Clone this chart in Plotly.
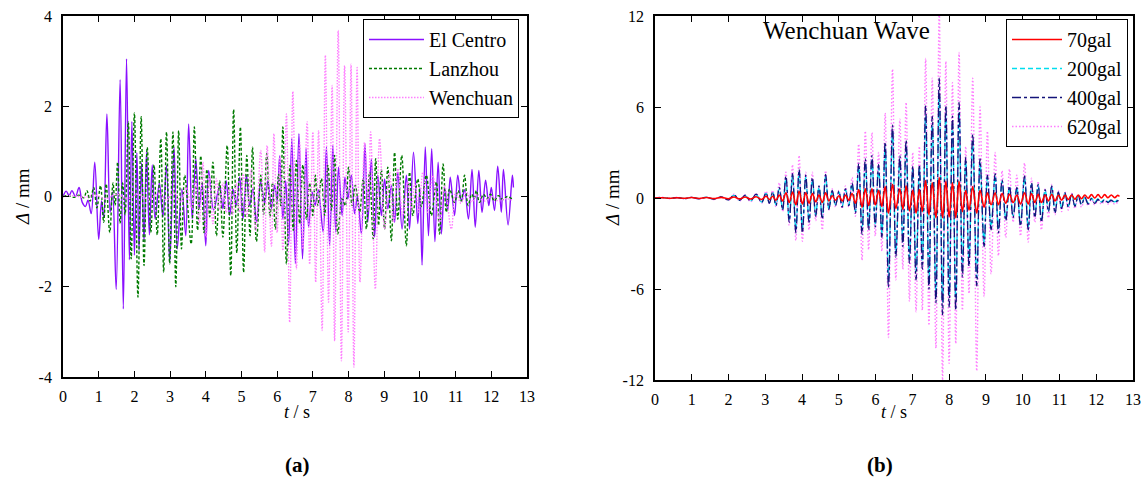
import plotly.graph_objects as go

# ---------------- (a) three earthquake records ----------------
t_elcentro = [
    0.00, 0.09, 0.17, 0.25, 0.35, 0.45, 0.54, 0.63, 0.70, 0.79,
    0.89, 1.00, 1.08, 1.14, 1.23, 1.32, 1.39, 1.49, 1.60, 1.69,
    1.78, 1.86, 1.93, 2.00, 2.07, 2.13, 2.20, 2.27, 2.34, 2.42,
    2.50, 2.58, 2.70, 2.80, 2.90, 2.99, 3.11, 3.20, 3.33,
    3.44, 3.52, 3.62, 3.72, 3.81, 3.90, 4.00, 4.08, 4.22, 4.39,
    4.48, 4.57, 4.67, 4.76, 4.85, 4.95, 5.04, 5.14, 5.23, 5.32,
    5.42, 5.54, 5.65, 5.74, 5.84, 5.93, 6.00, 6.07, 6.16, 6.24,
    6.32, 6.41, 6.51, 6.61, 6.71, 6.81, 6.88, 6.98, 7.06, 7.15,
    7.29, 7.38, 7.47, 7.56, 7.64, 7.72, 7.82, 7.90, 7.98, 8.08,
    8.17, 8.25, 8.36, 8.46, 8.54, 8.64, 8.73, 8.82, 8.92, 9.01,
    9.10, 9.20, 9.29, 9.38, 9.50, 9.62, 9.71, 9.82, 9.94, 10.00,
    10.06, 10.15, 10.24, 10.33, 10.42, 10.51, 10.60, 10.69, 10.78, 10.85,
    10.97, 11.06, 11.16, 11.25, 11.36, 11.46, 11.55, 11.65, 11.74, 11.84,
    11.93, 12.00, 12.09, 12.18, 12.28, 12.34, 12.47, 12.59, 12.62,
]
d_elcentro = [
    0.00, 0.12, 0.02, 0.13, 0.00, 0.20, -0.13, -0.22, -0.08, -0.38,
    0.76, -0.95, -0.10, -0.46, 1.83, -0.35, 0.10, -2.06, 2.59, -2.49,
    3.05, -1.40, 1.66, -1.30, 0.97, -1.20, 0.75, -1.00, 0.98, -0.85,
    0.70, -0.50, 0.30, -0.45, 0.69, -1.46, 1.10, -1.16, 0.17,
    -0.87, 1.61, -0.50, 0.84, -0.27, 0.30, -1.09, 0.58, -0.30, 0.24,
    -0.27, 0.35, -0.42, 0.17, -0.20, 0.43, -0.50, 0.47, -0.20, 0.17,
    -0.57, 0.32, -0.15, 0.35, -0.27, 0.25, -0.10, 0.90, -0.50, 0.35,
    -1.09, 1.28, -1.49, 1.39, -1.38, 1.06, -0.68, 0.10, -0.20, 0.15,
    -0.79, 1.10, -1.09, 1.13, -0.79, 0.65, -0.42, 0.43, -0.05, 0.47,
    -0.38, 0.00, -0.83, 1.17, -0.57, 0.84, -0.90, 0.47, -0.42, 0.39,
    -0.27, 0.24, -0.57, 0.54, -0.72, 0.47, -0.72, 0.98, -0.60, 0.20,
    -1.52, 1.10, -0.87, 1.06, -1.00, 0.76, -0.83, 0.20, -0.30, 0.43,
    -0.42, 0.47, -0.10, 0.15, -0.50, 0.60, -0.68, 0.58, -0.35, 0.36,
    -0.20, 0.20, -0.31, 0.67, -0.35, 0.60, -0.63, 0.47, 0.20,
]

t_lanzhou = [
    0.00, 0.15, 0.30, 0.45, 0.58, 0.67, 0.76, 0.86, 0.95, 1.05,
    1.14, 1.21, 1.31, 1.40, 1.46, 1.53, 1.60, 1.67, 1.74, 1.83,
    1.91, 2.00, 2.10, 2.19, 2.27, 2.36, 2.46, 2.55, 2.64, 2.74,
    2.82, 2.90, 2.99, 3.08, 3.16, 3.24, 3.32, 3.41, 3.59, 3.68,
    3.77, 3.86, 3.95, 4.03, 4.11, 4.20, 4.30, 4.39, 4.48, 4.60,
    4.70, 4.78, 4.87, 4.97, 5.06, 5.15, 5.24, 5.31, 5.42, 5.54,
    5.62, 5.71, 5.80, 5.87, 5.95, 6.04, 6.10, 6.16, 6.26, 6.36,
    6.45, 6.54, 6.63, 6.72, 6.82, 6.91, 7.00, 7.07, 7.14, 7.24,
    7.33, 7.42, 7.52, 7.61, 7.70, 7.82, 7.91, 8.00, 8.10, 8.19,
    8.31, 8.41, 8.50, 8.59, 8.69, 8.76, 8.84, 8.92, 9.01, 9.10,
    9.20, 9.29, 9.38, 9.49, 9.62, 9.71, 9.80, 9.94, 10.04, 10.18,
    10.32, 10.46, 10.55, 10.65, 10.74, 10.83, 10.97, 11.07, 11.16, 11.25,
    11.35, 11.45, 11.52, 11.58, 11.67, 11.78, 11.88, 11.98, 12.08, 12.20,
    12.32, 12.45, 12.58, 12.62,
]
d_lanzhou = [
    0.00, 0.02, -0.02, 0.03, -0.03, 0.13, -0.10, 0.20, -0.25, 0.24,
    -0.57, 0.28, -0.80, 0.30, -0.20, 0.76, -0.60, 0.30, -0.40, 1.65,
    -1.38, 1.85, -2.23, 1.77, -1.53, 1.09, -0.80, 0.70, -0.85, 1.28,
    -1.68, 1.43, -1.49, 1.43, -2.00, 1.46, -1.16, 0.47, -1.05, 1.54,
    -0.75, 0.90, -0.80, 0.60, -0.45, 0.76, -0.87, 0.35, -0.90, 1.13,
    -1.75, 1.93, -1.25, 1.54, -1.68, 0.91, -0.87, 1.09, -1.00, 0.47,
    -0.40, 0.95, -0.45, 0.30, -0.72, 0.50, -0.20, 1.54, -1.49, 0.69,
    -0.75, 0.80, -0.60, 0.70, -0.50, 0.30, -0.42, 0.47, -0.20, 0.40,
    -0.42, 0.69, -0.30, 0.91, -0.83, -0.05, -0.20, 0.65, -0.20, 0.25,
    -0.35, 0.39, -0.72, 0.54, -0.94, 0.84, -0.64, 0.60, -0.72, 0.65,
    -0.98, 0.98, -0.50, 0.91, -1.09, 0.54, -0.42, 0.39, -0.22, 0.47,
    -0.42, 0.32, -0.83, 0.72, -0.35, 0.17, -0.13, 0.13, -0.10, 0.47,
    -0.20, 0.05, -0.05, 0.13, -0.13, 0.05, -0.05, 0.05, -0.10, 0.02,
    -0.07, 0.00, -0.05, -0.05,
]

t_wenchuan = [
    0.00, 0.30, 0.60, 0.90, 1.20, 1.50, 1.80, 2.10, 2.40, 2.70,
    2.90, 3.10, 3.30, 3.45, 3.60, 3.72, 3.82, 3.92, 4.01, 4.11,
    4.20, 4.30, 4.39, 4.48, 4.57, 4.67, 4.76, 4.86, 4.95, 5.05,
    5.15, 5.27, 5.40, 5.54, 5.65, 5.72, 5.84, 5.91, 6.00, 6.08,
    6.16, 6.26, 6.35, 6.44, 6.54, 6.63, 6.72, 6.84, 6.91, 7.00,
    7.08, 7.16, 7.26, 7.35, 7.44, 7.54, 7.61, 7.71, 7.80, 7.89,
    7.99, 8.07, 8.15, 8.24, 8.32, 8.45, 8.55, 8.62, 8.75, 8.87,
    9.01, 9.15, 9.26, 9.38, 9.52, 9.66, 9.76, 9.86, 9.97, 10.08,
    10.22, 10.36, 10.55, 10.69, 10.88, 11.00, 11.15, 11.30, 11.45, 11.60,
    11.80, 12.00, 12.20, 12.40, 12.60,
]
d_wenchuan = [
    0.00, 0.02, -0.02, 0.03, -0.05, 0.05, -0.05, 0.05, -0.06, 0.07,
    -0.08, 0.10, -0.12, 0.20, -0.25, 0.35, -0.60, 0.76, -0.90, 0.45,
    -0.60, 0.40, -0.30, 0.30, -0.35, 0.20, -0.40, 0.30, -0.35, 0.50,
    -0.45, 0.60, -0.75, 1.02, -1.23, 1.13, -1.10, 1.39, -0.80, 0.90,
    -1.20, 1.83, -2.79, 2.33, -1.60, 1.20, -1.16, 1.66, -1.50, 1.43,
    -1.90, 1.46, -2.97, 3.13, -2.34, 2.46, -3.20, 3.68, -3.64, 2.90,
    -3.00, 2.93, -3.78, 2.86, -1.90, 1.20, -0.30, 1.43, -2.05, 1.28,
    -0.72, 0.54, -0.57, 0.62, -0.42, 0.32, -0.30, 0.30, -0.35, 0.54,
    -0.35, 0.47, -0.57, 0.24, -0.72, 0.10, -0.15, 0.10, -0.12, 0.05,
    -0.10, 0.00, -0.10, -0.05, -0.08,
]

# ---------------- (b) Wenchuan wave at four intensities ----------------
t_wave = [
    0.00, 0.20, 0.40, 0.60, 0.80, 1.00, 1.20, 1.40, 1.60, 1.80,
    2.00, 2.15, 2.30, 2.45, 2.60, 2.75, 2.90, 3.02, 3.11, 3.20,
    3.29, 3.38, 3.47, 3.56, 3.65, 3.74, 3.83, 3.92, 4.01, 4.10,
    4.19, 4.28, 4.37, 4.46, 4.55, 4.64, 4.73, 4.82, 4.91, 5.00,
    5.09, 5.18, 5.27, 5.36, 5.45, 5.54, 5.63, 5.72, 5.81, 5.90,
    5.99, 6.08, 6.17, 6.26, 6.35, 6.46, 6.55, 6.66, 6.74, 6.83,
    6.92, 7.01, 7.10, 7.19, 7.27, 7.36, 7.45, 7.54, 7.64, 7.73,
    7.82, 7.91, 8.00, 8.09, 8.18, 8.27, 8.36, 8.45, 8.54, 8.64,
    8.75, 8.84, 8.95, 9.04, 9.14, 9.25, 9.34, 9.44, 9.54, 9.64,
    9.74, 9.84, 9.94, 10.05, 10.15, 10.24, 10.33, 10.42, 10.51, 10.61,
    10.70, 10.79, 10.88, 10.97, 11.06, 11.15, 11.24, 11.33, 11.42, 11.51,
    11.60, 11.69, 11.78, 11.87, 11.96, 12.05, 12.14, 12.23, 12.32, 12.41,
    12.50, 12.59, 12.63,
]
d_70gal = [
    0.00, 0.02, -0.02, 0.02, -0.02, 0.03, -0.03, 0.03, -0.04, 0.04,
    -0.05, 0.07, -0.06, 0.07, -0.07, 0.08, -0.10, 0.12, -0.10, 0.12,
    -0.15, 0.20, -0.20, 0.35, -0.30, 0.40, -0.45, 0.45, -0.40, 0.35,
    -0.35, 0.30, -0.25, 0.20, -0.30, 0.35, -0.20, 0.15, -0.15, 0.15,
    -0.20, 0.20, -0.15, 0.30, -0.35, 0.55, -0.60, 0.60, -0.50, 0.60,
    -0.45, 0.50, -0.55, 0.75, -1.00, 0.90, -0.70, 0.60, -0.75, 0.80,
    -0.85, 0.50, -1.00, 0.55, -0.90, 1.15, -1.10, 1.00, -1.30, 1.35,
    -1.30, 1.10, -1.25, 1.00, -1.30, 1.10, -0.90, 0.50, -0.80, 0.75,
    -1.00, 0.50, -0.60, 0.35, -0.45, 0.35, -0.45, 0.30, -0.35, 0.25,
    -0.30, 0.20, -0.40, 0.35, -0.40, 0.30, -0.30, 0.25, -0.30, 0.20,
    -0.20, 0.25, -0.20, 0.20, -0.15, 0.20, -0.10, 0.20, -0.08, 0.20,
    -0.05, 0.20, -0.02, 0.22, 0.00, 0.22, 0.00, 0.22, 0.02, 0.20,
    0.02, 0.18, 0.10,
]
d_200gal = [
    0.00, 0.03, -0.03, 0.03, -0.03, 0.04, -0.04, 0.05, -0.07, 0.07,
    -0.10, 0.17, -0.13, 0.15, -0.18, 0.22, -0.27, 0.30, -0.30, 0.35,
    -0.45, 0.60, -0.70, 1.30, -1.40, 1.45, -2.00, 1.70, -2.00, 1.35,
    -1.45, 1.20, -1.10, 0.70, -1.25, 1.40, -0.70, 0.45, -0.45, 0.40,
    -0.55, 0.55, -0.45, 0.90, -0.90, 2.00, -2.10, 2.30, -1.90, 2.50,
    -1.70, 2.00, -2.30, 3.30, -5.20, 4.30, -3.50, 2.50, -2.90, 3.40,
    -3.90, 1.90, -4.80, 2.00, -4.20, 5.40, -5.40, 4.80, -6.10, 6.80,
    -6.90, 5.50, -6.40, 4.80, -6.60, 5.60, -4.60, 2.40, -4.00, 3.70,
    -5.20, 2.30, -2.90, 1.35, -1.90, 1.40, -2.00, 1.10, -1.35, 0.70,
    -1.15, 0.65, -1.65, 1.30, -1.90, 0.90, -1.15, 0.80, -1.40, 0.50,
    -0.80, 0.70, -0.90, 0.35, -0.65, 0.30, -0.55, 0.25, -0.50, 0.12,
    -0.40, 0.05, -0.35, -0.02, -0.30, -0.05, -0.25, -0.08, -0.25, -0.10,
    -0.25, -0.12, -0.15,
]
d_400gal = [
    0.00, 0.03, -0.03, 0.03, -0.04, 0.04, -0.05, 0.05, -0.08, 0.08,
    -0.12, 0.20, -0.15, 0.18, -0.20, 0.25, -0.30, 0.35, -0.35, 0.40,
    -0.50, 0.70, -0.80, 1.45, -1.60, 1.60, -2.30, 1.90, -2.30, 1.50,
    -1.60, 1.35, -1.20, 0.80, -1.40, 1.55, -0.75, 0.50, -0.50, 0.45,
    -0.60, 0.60, -0.50, 1.00, -1.00, 2.30, -2.40, 2.60, -2.10, 2.80,
    -1.90, 2.20, -2.60, 3.70, -5.90, 4.80, -3.90, 2.80, -3.20, 3.80,
    -4.30, 2.10, -5.40, 2.20, -4.70, 6.10, -6.00, 5.40, -6.90, 7.90,
    -7.70, 6.10, -7.20, 5.40, -7.40, 6.30, -5.20, 2.70, -4.50, 4.20,
    -5.80, 2.60, -3.20, 1.50, -2.10, 1.60, -2.30, 1.20, -1.50, 0.80,
    -1.30, 0.70, -1.85, 1.45, -2.10, 1.00, -1.30, 0.90, -1.60, 0.55,
    -0.90, 0.80, -1.00, 0.40, -0.70, 0.35, -0.60, 0.30, -0.55, 0.15,
    -0.45, 0.05, -0.40, -0.05, -0.35, -0.10, -0.30, -0.12, -0.30, -0.15,
    -0.30, -0.18, -0.22,
]
d_620gal = [
    0.00, 0.05, -0.05, 0.05, -0.05, 0.05, -0.08, 0.06, -0.10, 0.10,
    -0.15, 0.25, -0.20, 0.20, -0.25, 0.30, -0.35, 0.45, -0.40, 0.50,
    -0.60, 1.00, -0.90, 1.70, -1.80, 2.20, -2.80, 2.80, -2.85, 1.70,
    -2.10, 1.70, -1.50, 0.70, -2.10, 1.80, -0.80, 0.60, -0.60, 0.50,
    -0.70, 0.80, -0.60, 1.35, -1.20, 3.55, -4.10, 4.40, -3.40, 4.30,
    -2.50, 3.00, -3.50, 5.60, -9.20, 8.50, -5.40, 5.20, -4.70, 6.30,
    -6.80, 3.00, -7.50, 3.40, -7.40, 9.20, -8.40, 7.90, -9.90, 12.40,
    -12.00, 9.00, -10.90, 7.60, -9.60, 9.60, -7.40, 3.40, -6.30, 7.90,
    -11.40, 6.00, -6.50, 4.40, -5.00, 3.00, -3.80, 1.80, -2.60, 1.90,
    -1.60, 1.50, -2.50, 2.30, -2.90, 1.30, -1.60, 1.10, -2.10, 0.60,
    -1.30, 0.90, -1.10, 0.50, -0.90, 0.40, -0.80, 0.30, -0.70, 0.10,
    -0.60, 0.00, -0.50, -0.10, -0.45, -0.15, -0.40, -0.20, -0.40, -0.25,
    -0.40, -0.30, -0.35,
]

for tt, dd in [(t_elcentro, d_elcentro), (t_lanzhou, d_lanzhou),
               (t_wenchuan, d_wenchuan)] + [(t_wave, d) for d in
                                            (d_70gal, d_200gal, d_400gal, d_620gal)]:
    assert len(tt) == len(dd), (len(tt), len(dd))

x_ticks = list(range(0, 14))
ya_ticks = [-4, -2, 0, 2, 4]
ya_text = ["-4", "-2", "0", "2", "4"]
yb_ticks = [-12, -6, 0, 6, 12]
yb_text = ["-12", "-6", "0", "6", "12"]

FONT = "Liberation Serif"
W, H = 1145, 488


def px(x):
    return x / W


def py(y):
    return 1 - y / H


def curve(t, d, name, color, width, dash, axis, legend, rank):
    return go.Scatter(
        x=t, y=d, name=name, mode="lines", legendrank=rank, legendgroup=name,
        line=dict(color=color, width=width, dash=dash, shape="spline", smoothing=1.0),
        xaxis="x" + axis, yaxis="y" + axis, legend=legend)


fig = go.Figure()

# panel (a)
fig.add_trace(curve(t_elcentro, d_elcentro, "El Centro", "#8A10FF", 1.4, "solid", "", "legend", 1))
fig.add_trace(curve(t_lanzhou, d_lanzhou, "Lanzhou", "#007A00", 1.4, "3px,2px", "", "legend", 2))
fig.add_trace(curve(t_wenchuan, d_wenchuan, "Wenchuan", "#FF80FF", 1.4, "1.5px,1.5px", "", "legend", 3))

# panel (b): drawn largest first so the smaller responses stay visible
fig.add_trace(curve(t_wave, d_620gal, "620gal", "#FF7CFF", 1.4, "1.5px,2px", "2", "legend2", 4))
fig.add_trace(curve(t_wave, d_200gal, "200gal", "#00DDEE", 1.4, "5px,3px", "2", "legend2", 2))
fig.add_trace(curve(t_wave, d_400gal, "400gal", "#14147A", 1.3, "dashdot", "2", "legend2", 3))
fig.add_trace(curve(t_wave, d_70gal, "70gal", "#FF0000", 1.6, "solid", "2", "legend2", 1))

axis_common = dict(showline=True, linecolor="black", linewidth=1.8, mirror="allticks",
                   ticks="inside", ticklen=6, tickwidth=1.3, tickcolor="black",
                   showgrid=False, zeroline=False, automargin=False,
                   tickfont=dict(family=FONT, size=16, color="black"))

legend_common = dict(font=dict(family=FONT, size=20, color="black"),
                     bgcolor="white", bordercolor="black", borderwidth=1,
                     xanchor="left", yanchor="top")


def label(text, x, y, size, angle=0):
    return dict(text=text, x=px(x), y=py(y), xref="paper", yref="paper",
                xanchor="center", yanchor="middle", textangle=angle,
                showarrow=False, font=dict(family=FONT, size=size, color="black"))


fig.update_layout(
    template="none",
    width=W, height=H,
    margin=dict(l=0, r=0, t=0, b=0, pad=0, autoexpand=False),
    paper_bgcolor="white", plot_bgcolor="white",
    font=dict(family=FONT, color="black"),
    showlegend=True,
    xaxis=dict(domain=[px(63), px(527)], range=[0, 13], tickvals=x_ticks,
               anchor="y", ticklabelstandoff=4, **axis_common),
    yaxis=dict(domain=[py(377), py(16)], range=[-4, 4], tickvals=ya_ticks,
               ticktext=ya_text, anchor="x", ticklabelstandoff=6, **axis_common),
    xaxis2=dict(domain=[px(655), px(1133)], range=[0, 13], tickvals=x_ticks,
                anchor="y2", ticklabelstandoff=4, **axis_common),
    yaxis2=dict(domain=[py(380), py(16)], range=[-12, 12], tickvals=yb_ticks,
                ticktext=yb_text, anchor="x2", ticklabelstandoff=6, **axis_common),
    legend=dict(x=px(363), y=py(19), itemwidth=55, tracegroupgap=0, **legend_common),
    legend2=dict(x=px(1006), y=py(19), itemwidth=50, tracegroupgap=0, **legend_common),
    annotations=[
        label("<i>Δ</i> / mm", 22, 197, 19, -90),
        label("<i>t</i> / s", 297, 412, 18),
        label("<b>(a)</b>", 297, 465, 21),
        label("<i>Δ</i> / mm", 612, 198, 19, -90),
        label("<i>t</i> / s", 894, 412, 18),
        label("<b>(b)</b>", 880, 465, 21),
        label("Wenchuan Wave", 846, 31, 25),
    ],
)

fig.write_html("out.html")
